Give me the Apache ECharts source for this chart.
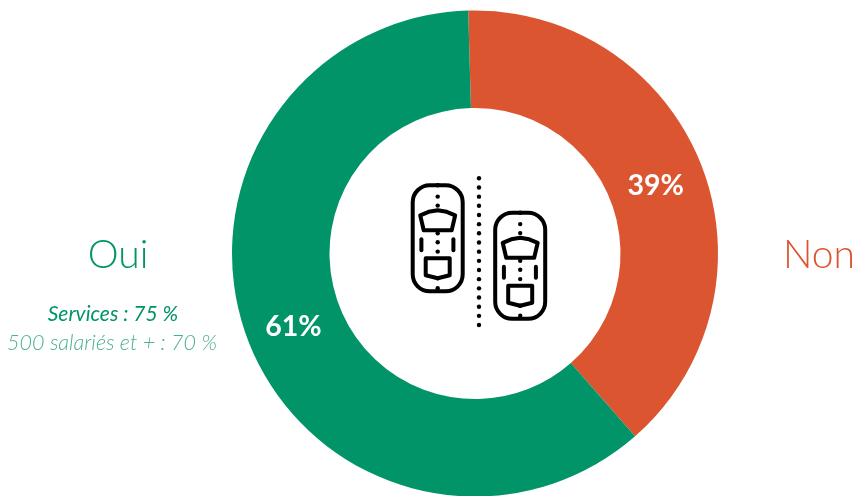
<!DOCTYPE html>
<html>
<head>
<meta charset="utf-8">
<style>html,body{margin:0;padding:0;background:#fff}#c{width:857px;height:496px}</style>
<script src="https://cdn.jsdelivr.net/npm/echarts@6/dist/echarts.min.js"></script>
</head>
<body>
<div id="c"></div>
<script>
var categories = ['Non', 'Oui'];
var values = [39, 61];
var colors = ['#DB5530', '#009468'];
var labelShift = [[-3, 4], [2, 1]];
var subLabels = ['Services : 75 %', '500 salariés et + : 70 %'];

var windshield = [[7.5, 30], [16, 26.5], [25, 25], [34, 26.5], [42.5, 30], [39, 45], [11, 45]];
var rearWindow = [[13, 73], [37, 73], [37, 90], [25, 93], [13, 90]];
var sideBarX = [8.7, 40.7];
var carDotY = [0, 11.3, 20.3, 48, 57, 66.3, 93, 103];
var roadDots = [];
for (var i = 0; i < 17; i++) roadDots.push(i);

function car(x, y) {
  var ink = {fill: 'transparent', stroke: '#000', lineWidth: 4, lineCap: 'round', lineJoin: 'round'};
  var kids = [
    {type: 'rect', shape: {x: 0, y: 0, width: 50, height: 106, r: 17}, style: ink},
    {type: 'polygon', shape: {points: windshield}, style: ink},
    {type: 'polygon', shape: {points: rearWindow}, style: ink}
  ];
  sideBarX.forEach(function (b) {
    kids.push({type: 'line', shape: {x1: b, y1: 54, x2: b, y2: 65}, style: ink});
  });
  carDotY.forEach(function (d) {
    kids.push({type: 'circle', shape: {cx: 25, cy: d, r: 2.2}, style: {fill: '#000'}});
  });
  return {type: 'group', x: x, y: y, children: kids};
}

var gfx = [
  car(412.7, 185.3),
  car(495.2, 212.8),
  {type: 'group', children: roadDots.map(function (i) {
    return {type: 'circle', shape: {cx: 479, cy: 178.3 + i * 9.17, r: 2.2}, style: {fill: '#000'}};
  })},
  {type: 'text', x: 118, y: 255, style: {text: categories[1], fill: colors[1], font: '300 39px Lato', align: 'center', verticalAlign: 'middle'}},
  {type: 'text', x: 819, y: 255, style: {text: categories[0], fill: colors[0], font: '300 39px Lato', align: 'center', verticalAlign: 'middle'}},
  {type: 'text', x: 113, y: 314, style: {text: subLabels[0], fill: colors[1], font: 'italic 400 21px Lato', align: 'center', verticalAlign: 'middle'}},
  {type: 'text', x: 112, y: 343, style: {text: subLabels[1], fill: '#4BB093', font: 'italic 300 21.5px Lato', align: 'center', verticalAlign: 'middle'}}
];

var chart = echarts.init(document.getElementById('c'), null, {renderer: 'canvas'});
chart.setOption({
  animation: false,
  series: [{
    type: 'pie',
    center: [475, 253.5],
    radius: [145.5, 243],
    startAngle: 91.6,
    clockwise: true,
    silent: true,
    data: categories.map(function (c, i) {
      return {name: c, value: values[i], itemStyle: {color: colors[i]}, label: {offset: labelShift[i]}};
    }),
    label: {
      show: true,
      position: 'inside',
      formatter: '{c}%',
      color: '#fff',
      fontFamily: 'Lato',
      fontWeight: 'bold',
      fontSize: 28.5
    },
    labelLine: {show: false}
  }],
  graphic: gfx
});
</script>
</body>
</html>
